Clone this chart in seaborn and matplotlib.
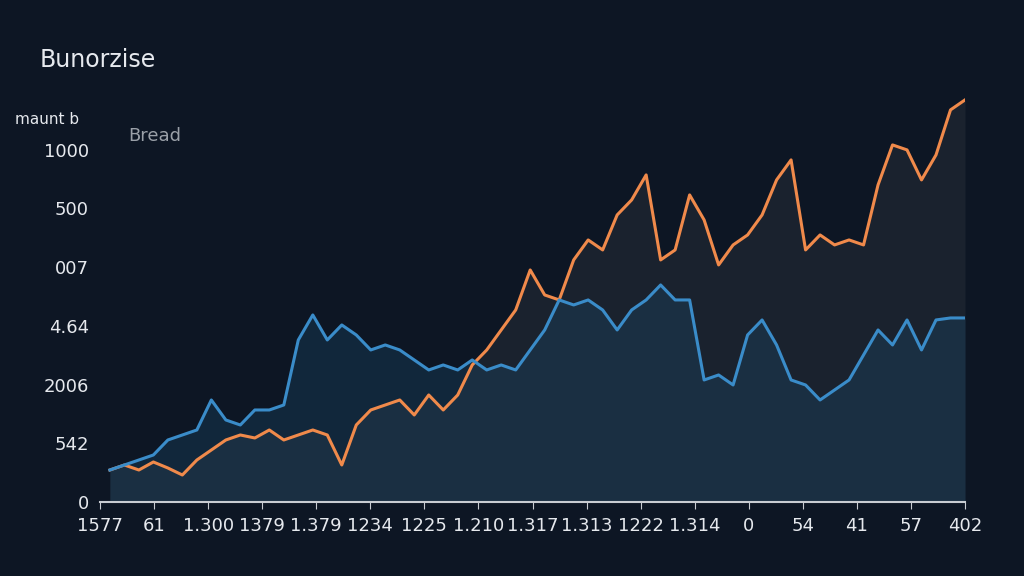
import matplotlib.pyplot as plt
import numpy as np
import pandas as pd
import seaborn as sns

# values (y in tick-step units, x in horizontal steps)
orange_y = [470, 465, 470, 462, 468, 475, 460, 450, 440, 435, 438, 430, 440, 435, 430, 435,
            465, 425, 410, 405, 400, 415, 395, 410, 395, 365, 350, 330, 310, 270, 295, 300,
            260, 240, 250, 215, 200, 175, 260, 250, 195, 220, 265, 245, 235, 215, 180, 160,
            250, 235, 245, 240, 245, 185, 145, 150, 180, 155, 110, 100]
blue_y = [470, 465, 460, 455, 440, 435, 430, 400, 420, 425, 410, 410, 405, 340, 315, 340,
          325, 335, 350, 345, 350, 360, 370, 365, 370, 360, 370, 365, 370, 350, 330, 300,
          305, 300, 310, 330, 310, 300, 285, 300, 300, 380, 375, 385, 335, 320, 345, 380,
          385, 400, 390, 380, 355, 330, 345, 320, 350, 320, 318, 318]
ytick_labels = ["0", "542", "2006", "4.64", "007", "500", "1000"]
xtick_labels = ["1577", "61", "1.300", "1379", "1.379", "1234", "1225", "1.210", "1.317",
                "1.313", "1222", "1.314", "0", "54", "41", "57", "402"]

PX = 58.7
orange = (502 - np.array(orange_y)) / PX
blue = (502 - np.array(blue_y)) / PX
x = np.linspace(0, 865, len(orange))
df = pd.DataFrame({"x": np.concatenate([x, x]),
                   "y": np.concatenate([orange, blue]),
                   "s": ["Bread"] * len(x) + ["other"] * len(x)})

bg = "#0d1624"
fig = plt.figure(figsize=(10.24, 5.76), dpi=100, facecolor=bg)
ax = fig.add_axes([100 / 1024, 1 - 502 / 576, 865 / 1024, (502 - 91) / 576])
ax.set_facecolor(bg)

ax.fill_between(x, 0, orange, color="#3a3f48", alpha=0.3, lw=0)
ax.fill_between(x, 0, blue, color="#1d4f73", alpha=0.3, lw=0)
sns.lineplot(data=df, x="x", y="y", hue="s", palette=["#f08a4b", "#3a8cc9"],
             linewidth=2.2, legend=False, ax=ax)

ax.set_xlim(0, 865)
ax.set_ylim(0, 7)
ax.set_yticks(range(7))
ax.set_yticklabels(ytick_labels)
ax.set_xticks(np.linspace(-10, 865, 17))
ax.set_xticklabels(xtick_labels)
ax.tick_params(colors="#e6e9ee", labelsize=13, length=0, pad=8)
ax.tick_params(axis="x", length=5, color="#c8ccd2", pad=6)
for s in ["top", "right", "left"]:
    ax.spines[s].set_visible(False)
ax.spines["bottom"].set_color("#c8ccd2")
ax.spines["bottom"].set_linewidth(1.5)
ax.set_xlabel("")
ax.set_ylabel("")

fig.text(40 / 1024, 1 - 60 / 576, "Bunorzise", color="#e6e9ee", fontsize=17, va="center")
fig.text(15 / 1024, 1 - 120 / 576, "maunt b", color="#e6e9ee", fontsize=11, va="center")
fig.text(128 / 1024, 1 - 136 / 576, "Bread", color="#9aa0a8", fontsize=13, va="center")

fig.savefig("out.png", dpi=100, facecolor=bg)
